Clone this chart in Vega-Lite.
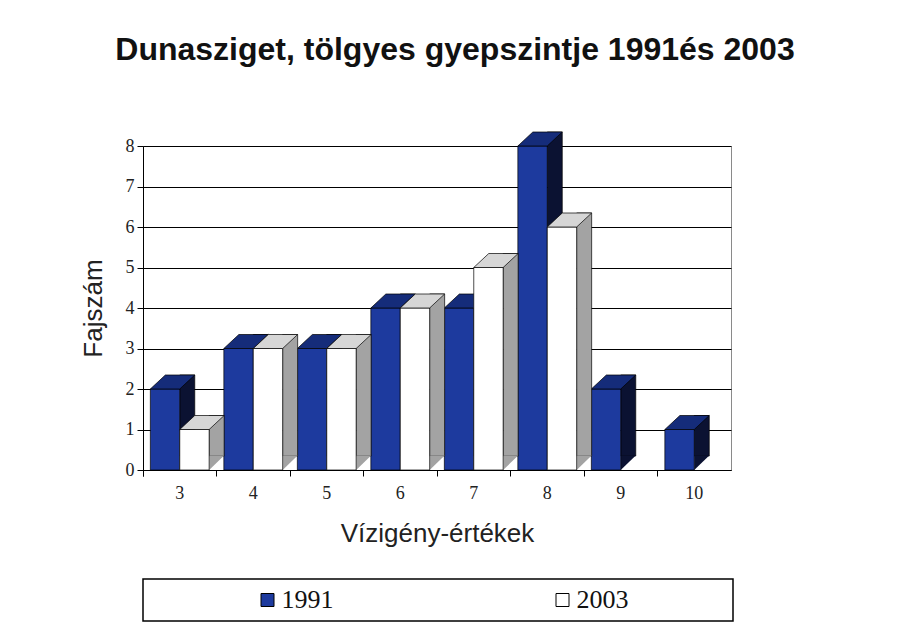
{
  "$schema": "https://vega.github.io/schema/vega-lite/v6.json",
  "background": "#ffffff",
  "padding": {"left": 80, "top": 33, "right": 150, "bottom": 2},
  "bounds": "flush",
  "spacing": 109,
  "datasets": {
    "bars": [
      {"cat": 3, "series": "1991", "value": 2},
      {"cat": 4, "series": "1991", "value": 3},
      {"cat": 5, "series": "1991", "value": 3},
      {"cat": 6, "series": "1991", "value": 4},
      {"cat": 7, "series": "1991", "value": 4},
      {"cat": 8, "series": "1991", "value": 8},
      {"cat": 9, "series": "1991", "value": 2},
      {"cat": 10, "series": "1991", "value": 1},
      {"cat": 3, "series": "2003", "value": 1},
      {"cat": 4, "series": "2003", "value": 3},
      {"cat": 5, "series": "2003", "value": 3},
      {"cat": 6, "series": "2003", "value": 4},
      {"cat": 7, "series": "2003", "value": 5},
      {"cat": 8, "series": "2003", "value": 6},
      {"cat": 9, "series": "2003", "value": 0},
      {"cat": 10, "series": "2003", "value": 0}
    ],
    "leg": [
      {"series": "1991"},
      {"series": "2003"}
    ]
  },
  "config": {
    "axis": {
      "labelFont": "Liberation Serif",
      "labelFontSize": 18,
      "labelColor": "#222222",
      "titleFont": "Liberation Sans",
      "titleFontSize": 26,
      "titleFontWeight": "normal",
      "titleColor": "#222222",
      "domainColor": "#000000",
      "tickColor": "#000000",
      "tickSize": 6,
      "gridColor": "#000000",
      "gridOpacity": 1
    }
  },
  "vconcat": [
    {
      "width": 588,
      "height": 324,
      "view": {"stroke": "#8a8a8a", "strokeWidth": 1},
      "title": {
        "text": "Dunasziget, tölgyes gyepszintje 1991és 2003",
        "font": "Liberation Sans",
        "fontSize": 32,
        "fontWeight": "bold",
        "color": "#111111",
        "anchor": "middle",
        "frame": "group",
        "dx": 18,
        "offset": 64
      },
      "data": {"name": "bars"},
      "encoding": {
        "x": {
          "field": "cat",
          "type": "ordinal",
          "title": "Vízigény-értékek",
          "scale": {"paddingInner": 0, "paddingOuter": 0},
          "axis": {
            "labelAngle": 0,
            "labelPadding": 8,
            "titlePadding": 18,
            "bandPosition": 0,
            "tickExtra": true,
            "grid": false
          }
        }
      },
      "layer": [
        {
          "transform": [{"filter": "datum.series === '1991' && datum.value > 0"}],
          "mark": {"type": "bar", "width": 15, "xOffset": 7.5, "yOffset": -14, "y2Offset": -14, "fill": "#0b1232", "stroke": "#000000", "strokeWidth": 0.7},
          "encoding": {
            "y": {"field": "value", "type": "quantitative", "title": "Fajszám", "scale": {"domain": [0, 8], "nice": false},
                  "axis": {"values": [0, 1, 2, 3, 4, 5, 6, 7, 8], "grid": true, "labelPadding": 3, "titlePadding": 18.5}},
            "y2": {"datum": 0}
          }
        },
        {
          "transform": [{"filter": "datum.series === '1991' && datum.value > 0"}],
          "mark": {"type": "point", "shape": "M -1 -1 L -1 0.933 L 1 -1 Z", "size": 225, "filled": true, "opacity": 1, "fill": "#0b1232", "strokeWidth": 0, "xOffset": 7.5, "yOffset": -7},
          "encoding": {
            "y": {"datum": 0, "type": "quantitative", "title": "Fajszám"}
          }
        },
        {
          "transform": [{"filter": "datum.series === '1991' && datum.value > 0"}],
          "mark": {"type": "bar", "width": {"band": 0.4}, "xOffset": -14.7, "fill": "#1d3a9e", "stroke": "#000000", "strokeWidth": 0.7},
          "encoding": {
            "y": {"field": "value", "type": "quantitative", "title": "Fajszám"}
          }
        },
        {
          "transform": [{"filter": "datum.series === '1991' && datum.value > 0"}],
          "mark": {"type": "point", "shape": "M -1 0.3153 L 0.3243 0.3153 L 1 -0.3153 L -0.3243 -0.3153 Z", "size": 1971.36, "filled": true, "opacity": 1, "fill": "#152c7a", "stroke": "#000000", "strokeWidth": 0.7, "xOffset": -7.2, "yOffset": -7},
          "encoding": {
            "y": {"field": "value", "type": "quantitative", "title": "Fajszám"}
          }
        },
        {
          "transform": [{"filter": "datum.series === '2003' && datum.value > 0"}],
          "mark": {"type": "bar", "width": 15, "xOffset": 36.9, "yOffset": -14, "y2Offset": -14, "fill": "#a3a3a3", "stroke": "#000000", "strokeWidth": 0.7},
          "encoding": {
            "y": {"field": "value", "type": "quantitative", "title": "Fajszám"},
            "y2": {"datum": 0}
          }
        },
        {
          "transform": [{"filter": "datum.series === '2003' && datum.value > 0"}],
          "mark": {"type": "point", "shape": "M -1 -1 L -1 0.933 L 1 -1 Z", "size": 225, "filled": true, "opacity": 1, "fill": "#a3a3a3", "strokeWidth": 0, "xOffset": 36.9, "yOffset": -7},
          "encoding": {
            "y": {"datum": 0, "type": "quantitative", "title": "Fajszám"}
          }
        },
        {
          "transform": [{"filter": "datum.series === '2003' && datum.value > 0"}],
          "mark": {"type": "bar", "width": {"band": 0.4}, "xOffset": 14.7, "fill": "#ffffff", "stroke": "#000000", "strokeWidth": 0.7},
          "encoding": {
            "y": {"field": "value", "type": "quantitative", "title": "Fajszám"}
          }
        },
        {
          "transform": [{"filter": "datum.series === '2003' && datum.value > 0"}],
          "mark": {"type": "point", "shape": "M -1 0.3153 L 0.3243 0.3153 L 1 -0.3153 L -0.3243 -0.3153 Z", "size": 1971.36, "filled": true, "opacity": 1, "fill": "#d6d6d6", "stroke": "#000000", "strokeWidth": 0.7, "xOffset": 22.2, "yOffset": -7},
          "encoding": {
            "y": {"field": "value", "type": "quantitative", "title": "Fajszám"}
          }
        }
      ]
    },
    {
      "width": 590,
      "height": 42,
      "view": {"stroke": "#000000", "strokeWidth": 1.5},
      "data": {"name": "leg"},
      "encoding": {
        "x": {"field": "series", "type": "nominal", "scale": {"paddingInner": 0, "paddingOuter": 0}, "axis": null}
      },
      "layer": [
        {
          "mark": {"type": "square", "size": 169, "filled": true, "opacity": 1, "stroke": "#000000", "strokeWidth": 1, "xOffset": -23},
          "encoding": {
            "fill": {"field": "series", "type": "nominal", "scale": {"domain": ["1991", "2003"], "range": ["#1d3a9e", "#ffffff"]}, "legend": null}
          }
        },
        {
          "mark": {"type": "text", "align": "left", "baseline": "middle", "dx": -9, "font": "Liberation Serif", "fontSize": 26, "color": "#111111"},
          "encoding": {
            "text": {"field": "series"}
          }
        }
      ]
    }
  ]
}
